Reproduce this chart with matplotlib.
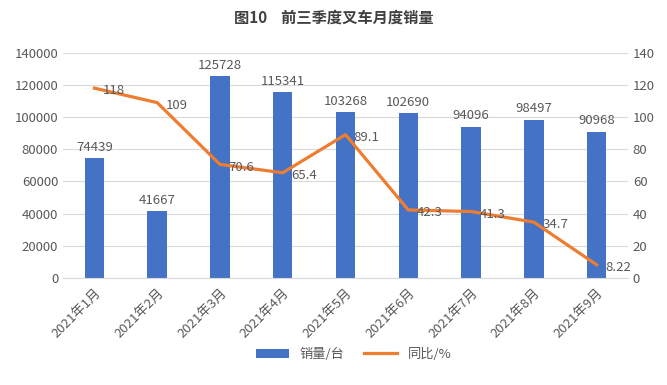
import matplotlib
matplotlib.use("Agg")
import matplotlib.pyplot as plt
import numpy as np

plt.rcParams['font.family'] = ['Noto Sans CJK SC', 'DejaVu Sans']

months = ["2021年1月", "2021年2月", "2021年3月", "2021年4月", "2021年5月",
          "2021年6月", "2021年7月", "2021年8月", "2021年9月"]
sales = [74439, 41667, 125728, 115341, 103268, 102690, 94096, 98497, 90968]
yoy = [118, 109, 70.6, 65.4, 89.1, 42.3, 41.3, 34.7, 8.22]
yoy_labels = ["118", "109", "70.6", "65.4", "89.1", "42.3", "41.3", "34.7", "8.22"]

bar_color = "#4472C4"
line_color = "#ED7D31"
text_color = "#595959"
grid_color = "#D9D9D9"

fig = plt.figure(figsize=(6.67, 3.85), dpi=100)
ax = fig.add_axes([0.0945, 0.278, 0.847, 0.585])
ax2 = ax.twinx()

x = np.arange(len(months))
ax.bar(x, sales, width=0.31, color=bar_color, label="销量/台", zorder=2)
for xi, v in zip(x, sales):
    ax.annotate(str(v), (xi, v), xytext=(0, 3), textcoords="offset points",
                ha="center", va="bottom", fontsize=9.5, color=text_color)

ax.set_xlim(-0.5, len(months) - 0.5)
ax.set_ylim(0, 140000)
ax.set_yticks(np.arange(0, 140001, 20000))
ax.grid(axis="y", color=grid_color, linewidth=0.8, zorder=0)
ax.set_axisbelow(True)
for s in ["top", "left", "right"]:
    ax.spines[s].set_visible(False)
ax.spines["bottom"].set_color(grid_color)
ax.tick_params(axis="both", length=0, colors=text_color, labelsize=9.5)
ax.set_xticks(x)
ax.set_xticklabels(months, rotation=45, ha="right", rotation_mode="anchor")
ax.tick_params(axis="x", pad=6)

ax2.plot(x, yoy, color=line_color, linewidth=2.3, label="同比/%", zorder=3)
ax2.set_ylim(0, 140)
ax2.set_yticks(np.arange(0, 141, 20))
for s in ["top", "left", "right", "bottom"]:
    ax2.spines[s].set_visible(False)
ax2.tick_params(axis="y", length=0, colors=text_color, labelsize=9.5)
for xi, v, lab in zip(x, yoy, yoy_labels):
    ax2.annotate(lab, (xi, v), xytext=(6, -2), textcoords="offset points",
                 ha="left", va="center", fontsize=9.5, color=text_color)

fig.text(0.5, 0.953, "图10    前三季度叉车月度销量", ha="center", va="center",
         fontsize=11, fontweight="bold", color="#404040")

h1, l1 = ax.get_legend_handles_labels()
h2, l2 = ax2.get_legend_handles_labels()
fig.legend(h1 + h2, l1 + l2, loc="center", bbox_to_anchor=(0.53, 0.08), ncol=2,
           frameon=False, fontsize=9.5, labelcolor=text_color, handlelength=2.5,
           columnspacing=1.5)

fig.savefig("out.png", dpi=100, facecolor="white")
